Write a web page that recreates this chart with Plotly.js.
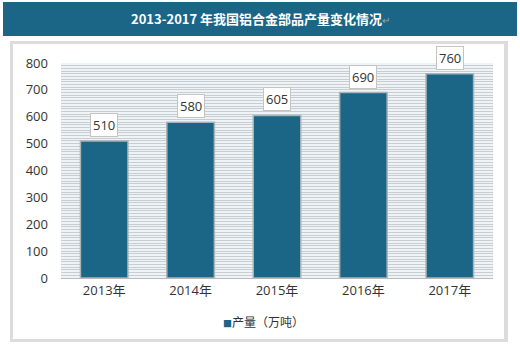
<!DOCTYPE html>
<html><head><meta charset="utf-8">
<script src="https://cdn.plot.ly/plotly-3.0.1.min.js"></script>
<style>html,body{margin:0;padding:0;background:#fff;}#c{width:520px;height:347px;}</style>
</head><body><div id="c"></div>
<script>
const categories = ['2013年','2014年','2015年','2016年','2017年'];
const output = [510, 580, 605, 690, 760];
const seriesName = '产量（万吨）';
const titleText = '2013-2017 年我国铝合金部品产量变化情况';

const W = 520, H = 347, L = 61, R = 27, T = 63, B = 69;
const pw = W - L - R, ph = H - T - B;
const px = v => (v - L) / pw;
const py = v => (H - B - v) / ph;
const barColor = '#1b6587';

const trace = {
  type: 'bar', x: categories, y: output, name: seriesName,
  marker: {color: barColor, line: {color: '#a9b3b8', width: 1.5}},
  width: 0.55, showlegend: false, hoverinfo: 'none'
};

const annotations = categories.map((c, i) => ({
  x: c, y: output[i], xref: 'x', yref: 'y', text: String(output[i]),
  showarrow: false, yanchor: 'bottom', yshift: 4,
  bgcolor: '#ffffff', bordercolor: '#c4c4c4', borderwidth: 1, borderpad: 2,
  font: {family: 'Open Sans, Noto Sans CJK SC, sans-serif', size: 13, color: '#333'}
}));
annotations.push({
  xref: 'paper', yref: 'paper', x: px(260), y: py(19), showarrow: false,
  text: '<b>' + titleText + '</b><span style="color:#9aa;font-size:10px">↵</span>',
  font: {family: 'Noto Sans CJK SC, sans-serif', size: 13, color: '#ffffff'},
  xanchor: 'center', yanchor: 'middle'
});
// legend entry
annotations.push({
  xref: 'paper', yref: 'paper', x: px(221), y: py(321), showarrow: false,
  xanchor: 'left', yanchor: 'middle',
  text: '<span style="color:' + barColor + ';font-size:9px">■</span>' + seriesName,
  font: {family: 'Noto Sans CJK SC, sans-serif', size: 12, color: '#333'}
});

const shapes = [
  {type:'rect', xref:'paper', yref:'paper', x0:px(3), x1:px(517), y0:py(36), y1:py(2), fillcolor:'#1b6587', line:{width:0}, layer:'below'},
  {type:'rect', xref:'paper', yref:'paper', x0:px(10), x1:px(508), y0:py(342), y1:py(41), fillcolor:'#dcdcdc', line:{width:0}, layer:'below'},
  {type:'rect', xref:'paper', yref:'paper', x0:px(13), x1:px(504), y0:py(339), y1:py(44), fillcolor:'#ffffff', line:{width:0}, layer:'below'},
  {type:'rect', xref:'paper', yref:'paper', x0:0, x1:1, y0:0, y1:1, fillcolor:'#eef3f7', line:{width:0}, layer:'below'}
];

const layout = {
  width: W, height: H, margin: {l: L, r: R, t: T, b: B},
  paper_bgcolor: '#ffffff', plot_bgcolor: 'rgba(0,0,0,0)',
  showlegend: false,
  xaxis: {type: 'category', showgrid: false, showline: true, linecolor: '#bbbbbb', linewidth: 1,
    ticks: '', tickfont: {family: 'Open Sans, Noto Sans CJK SC, sans-serif', size: 13, color: '#333'}},
  yaxis: {range: [0, 800], dtick: 100, showgrid: true, gridcolor: '#c9cdd0', gridwidth: 1,
    minor: {dtick: 10, showgrid: true, gridcolor: '#c9cdd0', gridwidth: 1},
    zeroline: false, showline: false, ticks: '', ticklabelstandoff: 12,
    tickfont: {family: 'Open Sans, sans-serif', size: 13, color: '#333'}},
  bargap: 0.45, shapes: shapes, annotations: annotations
};

Plotly.newPlot('c', [trace], layout, {staticPlot: true});
</script></body></html>
